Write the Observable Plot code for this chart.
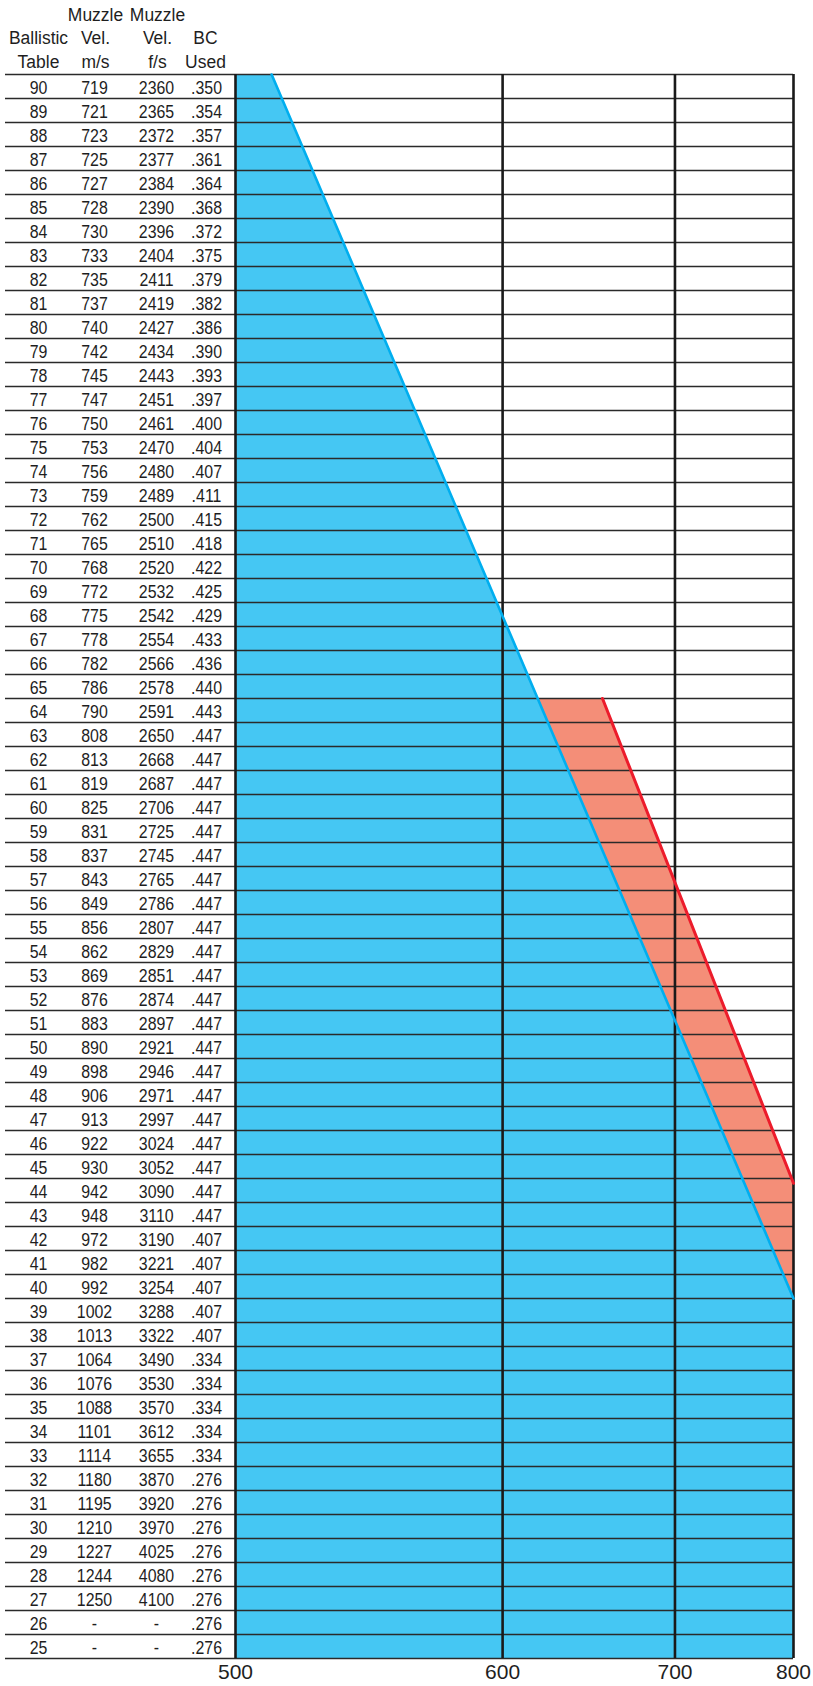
<!DOCTYPE html>
<html>
<head>
<meta charset="utf-8">
<script src="https://cdn.jsdelivr.net/npm/d3@7"></script>
<script src="https://cdn.jsdelivr.net/npm/@observablehq/plot@0.6"></script>
<style>
  html, body { margin: 0; padding: 0; background: #ffffff; }
  svg { display: block; }
</style>
</head>
<body>
<div id="chart"></div>
<script>
const tables = [90,89,88,87,86,85,84,83,82,81,80,79,78,77,76,75,74,73,72,71,70,69,68,67,66,65,64,63,62,61,60,59,58,57,56,55,54,53,52,51,50,49,48,47,46,45,44,43,42,41,40,39,38,37,36,35,34,33,32,31,30,29,28,27,26,25];
const velMs = ["719","721","723","725","727","728","730","733","735","737","740","742","745","747","750","753","756","759","762","765","768","772","775","778","782","786","790","808","813","819","825","831","837","843","849","856","862","869","876","883","890","898","906","913","922","930","942","948","972","982","992","1002","1013","1064","1076","1088","1101","1114","1180","1195","1210","1227","1244","1250","-","-"];
const velFs = ["2360","2365","2372","2377","2384","2390","2396","2404","2411","2419","2427","2434","2443","2451","2461","2470","2480","2489","2500","2510","2520","2532","2542","2554","2566","2578","2591","2650","2668","2687","2706","2725","2745","2765","2786","2807","2829","2851","2874","2897","2921","2946","2971","2997","3024","3052","3090","3110","3190","3221","3254","3288","3322","3490","3530","3570","3612","3655","3870","3920","3970","4025","4080","4100","-","-"];
const bcUsed = [".350",".354",".357",".361",".364",".368",".372",".375",".379",".382",".386",".390",".393",".397",".400",".404",".407",".411",".415",".418",".422",".425",".429",".433",".436",".440",".443",".447",".447",".447",".447",".447",".447",".447",".447",".447",".447",".447",".447",".447",".447",".447",".447",".447",".447",".447",".447",".447",".407",".407",".407",".407",".407",".334",".334",".334",".334",".334",".276",".276",".276",".276",".276",".276",".276",".276"];
const headers = ["Ballistic\nTable", "Muzzle\nVel.\nm/s", "Muzzle\nVel.\nf/s", "BC\nUsed"];
const xTicks = [500, 600, 700, 800];

// edge of the blue region (table position, distance)
const blueTable = [90.5, 39.5, 24.5];
const blueDist  = [511, 800, 800];
// edge of the red region
const redTable = [64.5, 44.3, 39.5];
const redDist  = [653, 800, 800];

const blueEdge = blueTable.map((t, i) => ({table: t, dist: blueDist[i]}));
const redEdge = redTable.map((t, i) => ({table: t, dist: redDist[i]}));
const rows = tables.map((t, i) => ({t, ms: velMs[i], fs: velFs[i], bc: bcUsed[i]}));
const bounds = tables.map(t => t + 0.5).concat([tables[tables.length - 1] - 0.5]);
const columns = ["t", "ms", "fs", "bc"];
const colDx = [33, 89, 151, 201];
const headDx = [33, 90, 152, 200];

const textFont = "'Liberation Sans', Arial, Helvetica, sans-serif";

const chart = Plot.plot({
  width: 813,
  height: 1686,
  marginTop: 74,
  marginBottom: 28,
  marginLeft: 5,
  marginRight: 20,
  style: {fontFamily: textFont, fontSize: "18.5px", color: "#1e1e1e", background: "#ffffff"},
  x: {type: "pow", exponent: -1.6, domain: [500, 800], range: [235, 793], label: null},
  y: {domain: [bounds[bounds.length - 1], bounds[0]], axis: null},
  marks: [
    Plot.areaX(redEdge, {y: "table", x1: 500, x2: "dist", fill: "#f48e78"}),
    Plot.areaX(blueEdge, {y: "table", x1: 500, x2: "dist", fill: "#45c7f3"}),
    Plot.ruleY(bounds, {stroke: "#2a2a2a", strokeWidth: 1.6}),
    Plot.ruleX(xTicks, {stroke: "#1a1a1a", strokeWidth: 2.6}),
    Plot.line(blueEdge.slice(0, 2), {x: "dist", y: "table", stroke: "#00aeef", strokeWidth: 2.6}),
    Plot.line(redEdge.slice(0, 2), {x: "dist", y: "table", stroke: "#ec1c2b", strokeWidth: 3}),
    ...columns.map((c, i) => Plot.text(rows, {
      y: "t", text: c, frameAnchor: "left", dx: colDx[i], dy: 1.5,
      textAnchor: "middle", fill: "#1e1e1e", fontSize: 18.5, className: "tbltext"
    })),
    ...headers.map((h, i) => Plot.text([h], {
      text: d => d, frameAnchor: "top-left", dx: headDx[i], dy: -7,
      lineAnchor: "bottom", lineHeight: 1.22, textAnchor: "middle",
      fill: "#1e1e1e", fontSize: 19, className: "headtext"
    })),
    Plot.axisX({ticks: xTicks, tickSize: 0, tickPadding: 6, fontSize: 21,
      tickFormat: d => String(d), label: null})
  ]
});

// condense the table lettering horizontally around each text's anchor
chart.querySelectorAll(".tbltext text").forEach(t => {
  const tr = t.getAttribute("transform") || "";
  t.setAttribute("transform", tr + " scale(0.86,1)");
});
chart.querySelectorAll(".headtext text").forEach(t => {
  const tr = t.getAttribute("transform") || "";
  t.setAttribute("transform", tr + " scale(0.92,1)");
});

document.getElementById("chart").appendChild(chart);
</script>
</body>
</html>
